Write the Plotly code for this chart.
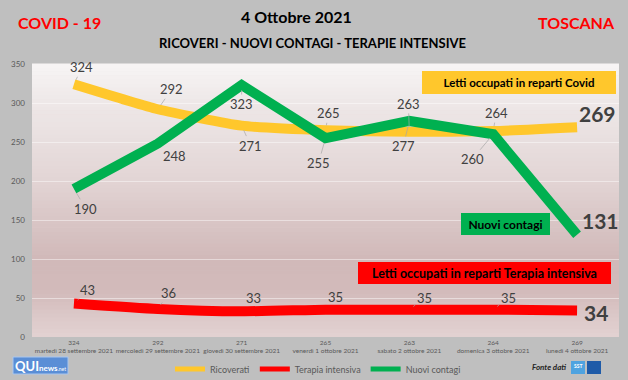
import plotly.graph_objects as go

# ---------------- data ----------------
dates = ["martedì 28 settembre 2021", "mercoledì 29 settembre 2021",
         "giovedì 30 settembre 2021", "venerdì 1 ottobre 2021",
         "sabato 2 ottobre 2021", "domenica 3 ottobre 2021",
         "lunedì 4 ottobre 2021"]
ricoverati = [324, 292, 271, 265, 263, 264, 269]
terapia = [43, 36, 33, 35, 35, 35, 34]
contagi = [190, 248, 323, 255, 277, 260, 131]
y_ticks = [0, 50, 100, 150, 200, 250, 300, 350]

# ---------------- style ----------------
W, H = 628, 380
ML, MR, MT, MB = 32, 9, 64, 43
PW, PH = W - ML - MR, H - MT - MB
FONT = "Lato"
YEL, RED, GRN = "#FFC72C", "#FF0000", "#00B050"
LBL = "#404040"

def px(xp):
    return (xp - ML) / PW

def py(yp):
    return (H - MB - yp) / PH

tick_text = [f"{r}<br>{d}" for r, d in zip(ricoverati, dates)]

fig = go.Figure()
series = [("Ricoverati", ricoverati, YEL, "spline"),
          ("Terapia intensiva", terapia, RED, "spline"),
          ("Nuovi contagi", contagi, GRN, "linear")]
for name, vals, c, shp in series:
    fig.add_trace(go.Scatter(x=dates, y=vals, name=name, mode="lines", showlegend=False,
                             legendgroup=name,
                             line=dict(color=c, width=10, shape=shp, smoothing=0.5),
                             hoverinfo="skip"))
# legend entries (thinner swatches, as in the reference)
for name, vals, c, shp in series:
    fig.add_trace(go.Scatter(x=[None], y=[None], name=name, mode="lines", legendgroup=name,
                             line=dict(color=c, width=5), hoverinfo="skip"))

# gradient background of plot area
stops = [(0.0, (0xE3, 0xD2, 0xD2)), (0.07, (0xDC, 0xC9, 0xC9)), (0.17, (0xD2, 0xBA, 0xBA)),
         (0.29, (0xD1, 0xB9, 0xB9)), (0.43, (0xD9, 0xC6, 0xC6)), (0.57, (0xE2, 0xD4, 0xD4)),
         (0.71, (0xE8, 0xDE, 0xDE)), (0.86, (0xEE, 0xE8, 0xE8)), (1.0, (0xF7, 0xF5, 0xF5))]

def col_at(t):
    for (t0, c0), (t1, c1) in zip(stops[:-1], stops[1:]):
        if t0 <= t <= t1:
            f = (t - t0) / (t1 - t0)
            return "rgb(%d,%d,%d)" % tuple(round(a + (b - a) * f) for a, b in zip(c0, c1))
    return "rgb(%d,%d,%d)" % stops[-1][1]

N = 70
shapes = []
for i in range(N):
    y0, y1 = i / N, (i + 1) / N
    shapes.append(dict(type="rect", xref="x domain", yref="y domain", x0=0, x1=1,
                       y0=y0, y1=y1 + 0.002, fillcolor=col_at((y0 + y1) / 2),
                       line=dict(width=0), layer="below"))

# logos
shapes.append(dict(type="rect", xref="paper", yref="paper", x0=px(13), x1=px(68),
                   y0=py(374), y1=py(357), fillcolor="#5A8ED6",
                   line=dict(color="#A9C6EE", width=1), layer="above"))
shapes.append(dict(type="rect", xref="paper", yref="paper", x0=px(571), x1=px(585),
                   y0=py(374), y1=py(361), fillcolor="#4FA3E0",
                   line=dict(width=0), layer="above"))
shapes.append(dict(type="rect", xref="paper", yref="paper", x0=px(587), x1=px(601),
                   y0=py(374), y1=py(361), fillcolor="#1F5BA8",
                   line=dict(width=0), layer="above"))

ann = []
# data labels with leader lines
off_y = [(8, -17), (14, -20), (9, 20), (3, -17), (-1, -28), (3, -18)]
off_g = [(12, 20), (17, 12), (0, 19), (-7, 25), (-6, 25), (-21, 25)]
off_r = [(14, -13), (11, -16), (12, -13), (10, -13), (15, -12), (15, -12)]
for vals, offs in ((ricoverati, off_y), (contagi, off_g), (terapia, off_r)):
    for i, (ax, ay) in enumerate(offs):
        ann.append(dict(x=dates[i], y=vals[i], xref="x", yref="y", text=str(vals[i]),
                        showarrow=True, arrowhead=0, arrowwidth=0.7, arrowcolor="#A6A6A6",
                        standoff=5, ax=ax, ay=ay,
                        font=dict(family=FONT, size=13, color=LBL)))
# big last labels
for vals, dx, dy in ((ricoverati, 20, 14), (contagi, 23, 14), (terapia, 19, -2)):
    ann.append(dict(x=dates[-1], y=vals[-1], xref="x", yref="y", text=f"<b>{vals[-1]}</b>",
                    showarrow=False, xshift=dx, yshift=dy,
                    xanchor="center", yanchor="middle",
                    font=dict(family=FONT, size=21, color=LBL)))

# series boxes
boxes = [("Letti occupati in reparti Covid", YEL, 519, 82.5, 194, 23, 11.5),
         ("Nuovi contagi", GRN, 505.5, 224, 89, 22, 12),
         ("Letti occupati in reparti Terapia intensiva", RED, 484.5, 273, 253, 22, 12.5)]
for txt, c, cx, cy, w, h, fs in boxes:
    ann.append(dict(x=px(cx), y=py(cy), xref="paper", yref="paper", text=f"<b>{txt}</b>",
                    showarrow=False, width=w, height=h, bgcolor=c, bordercolor=c,
                    borderwidth=0, borderpad=0, xanchor="center", yanchor="middle",
                    font=dict(family=FONT, size=fs, color="#000000")))

# titles and logos text
def ptxt(x, y, text, size, color):
    return dict(x=px(x), y=py(y), xref="paper", yref="paper", text=text,
                showarrow=False, xanchor="center", yanchor="middle",
                font=dict(family=FONT, size=size, color=color))

ann += [
    ptxt(59, 22, "<b>COVID - 19</b>", 16, "#FF0000"),
    ptxt(576, 22, "<b>TOSCANA</b>", 16, "#FF0000"),
    ptxt(296, 17, "<b>4 Ottobre 2021</b>", 16, "#000000"),
    ptxt(312, 43, "<b>RICOVERI - NUOVI CONTAGI - TERAPIE INTENSIVE</b>", 13, "#000000"),
    ptxt(40.5, 365.5, "<b>QUI</b><span style='font-size:8px'><b>news</b></span>"
                      "<span style='font-size:5px'>.net</span>", 13, "#FFFFFF"),
    ptxt(549, 367, "<b><i>Fonte dati</i></b>", 8, "#262626"),
    ptxt(578, 366, "<b>SST</b>", 5, "#FFFFFF"),
]

fig.update_layout(
    width=W, height=H,
    margin=dict(l=ML, r=MR, t=MT, b=MB, pad=0, autoexpand=False),
    paper_bgcolor="#BFBFBF", plot_bgcolor="#E0D0D0",
    shapes=shapes, annotations=ann,
    showlegend=True,
    legend=dict(orientation="h", x=px(318), xanchor="center", y=py(369), yanchor="middle",
                font=dict(family=FONT, size=9, color="#595959"), bgcolor="rgba(0,0,0,0)",
                itemwidth=30, tracegroupgap=0),
    font=dict(family=FONT),
    xaxis=dict(type="category", range=[-0.5, 6.5], tickmode="array", tickvals=dates,
               ticktext=tick_text, showgrid=False, zeroline=False, showline=False,
               ticks="", tickangle=0, automargin=False,
               tickfont=dict(family=FONT, size=6.5, color="#595959")),
    yaxis=dict(range=[0, 350], tickmode="array", tickvals=y_ticks, automargin=False,
               showgrid=True, gridcolor="rgba(255,255,255,0.45)", gridwidth=1,
               zeroline=False, showline=False, ticks="", ticklabelstandoff=6,
               tickfont=dict(family=FONT, size=8, color="#595959")),
)

fig.write_html("out.html", config={"displayModeBar": False},
               post_script="document.body.style.margin='0px';"
                           "document.body.style.overflow='hidden';")
